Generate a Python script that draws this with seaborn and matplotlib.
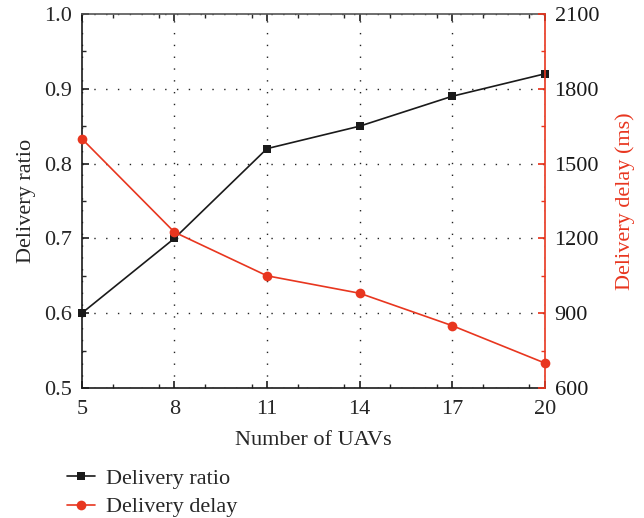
import matplotlib
matplotlib.use("Agg")
import matplotlib.pyplot as plt
import seaborn as sns
import pandas as pd
from matplotlib.lines import Line2D
from matplotlib.ticker import MultipleLocator

uavs = [5, 8, 11, 14, 17, 20]
delivery_ratio = [0.60, 0.70, 0.82, 0.85, 0.89, 0.92]
delivery_delay = [1600, 1225, 1050, 980, 850, 700]

sns.set_theme(style="ticks")
plt.rcParams['font.family'] = ['Liberation Serif', 'DejaVu Serif']
FS = 16
plt.rcParams['font.size'] = FS

RED = "#E8361F"
BLACK = "#1a1a1a"

df = pd.DataFrame({"uavs": uavs, "ratio": delivery_ratio, "delay": delivery_delay})

fig = plt.figure(figsize=(6.44, 5.18), dpi=100)
ax = fig.add_axes([0.127, 0.251, 0.719, 0.722])
ax2 = ax.twinx()

sns.lineplot(data=df, x="uavs", y="ratio", ax=ax, color=BLACK, marker="s",
             markersize=6, markeredgewidth=0, linewidth=1.2, clip_on=False, zorder=3)
sns.lineplot(data=df, x="uavs", y="delay", ax=ax2, color=RED, marker="o",
             markersize=7, markeredgewidth=0, linewidth=1.2, clip_on=False, zorder=3)

ax.set_xlim(5, 20)
ax.set_ylim(0.5, 1.0)
ax2.set_ylim(600, 2100)
ax.set_xticks(uavs)
ax.set_yticks([0.5, 0.6, 0.7, 0.8, 0.9, 1.0])
ax2.set_yticks([600, 900, 1200, 1500, 1800, 2100])
ax.xaxis.set_minor_locator(MultipleLocator(1.5))
ax.yaxis.set_minor_locator(MultipleLocator(0.05))
ax2.yaxis.set_minor_locator(MultipleLocator(150))

ax.grid(True, which="major", linestyle=(0, (1, 7.5)), color="#222222", linewidth=1.0)

ax.set_xlabel("Number of UAVs", fontsize=FS, labelpad=8)
ax.set_ylabel("Delivery ratio", fontsize=FS, labelpad=6)
ax2.set_ylabel("Delivery delay (ms)", fontsize=FS, color=RED, labelpad=12)

for a in (ax, ax2):
    a.tick_params(which="both", direction="in", top=True, labelsize=FS, pad=7)
    a.tick_params(which="major", length=5)
    a.tick_params(which="minor", length=3)
ax.tick_params(axis="x", pad=9)
ax.tick_params(right=False, which="both")
ax2.tick_params(axis="y", which="both", colors=RED, labelcolor=BLACK)

for s in ["left", "bottom"]:
    ax.spines[s].set_color(BLACK)
    ax.spines[s].set_linewidth(1.2)
ax.spines["top"].set_color("#555555")
ax.spines["top"].set_linewidth(1.2)
ax2.spines["right"].set_color(RED)
ax2.spines["right"].set_linewidth(1.2)
ax2.spines["left"].set_visible(False)
ax2.spines["top"].set_visible(False)
ax2.spines["bottom"].set_visible(False)
ax.spines["right"].set_visible(False)

handles = [
    Line2D([], [], color=BLACK, marker="s", markersize=6, markeredgewidth=0, linewidth=1.2),
    Line2D([], [], color=RED, marker="o", markersize=7, markeredgewidth=0, linewidth=1.2),
]
fig.legend(handles, ["Delivery ratio", "Delivery delay"], loc="upper left",
           bbox_to_anchor=(0.073, 0.134), frameon=False, fontsize=FS,
           handlelength=1.25, labelspacing=0.35, handletextpad=0.5)

fig.savefig("out.png", dpi=100)
